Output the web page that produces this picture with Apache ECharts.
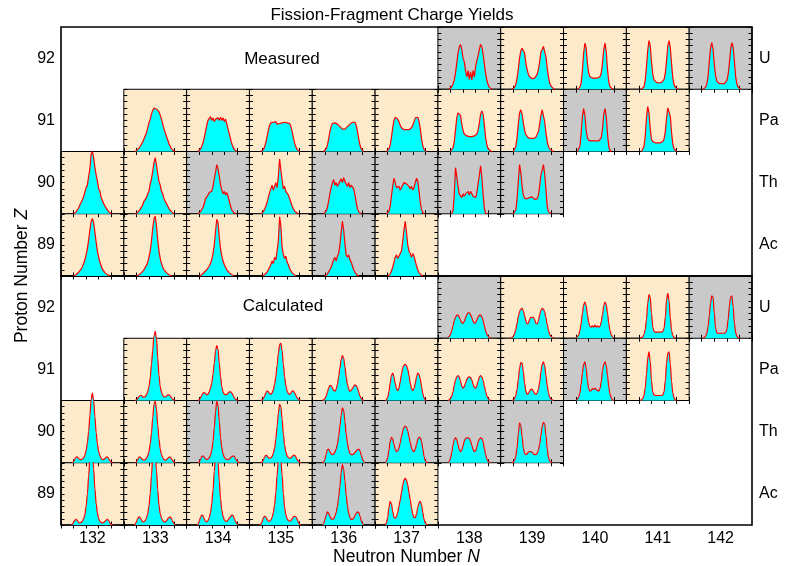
<!DOCTYPE html>
<html><head><meta charset="utf-8">
<script src="https://cdn.jsdelivr.net/npm/echarts@6/dist/echarts.min.js"></script>
<style>html,body{margin:0;padding:0;background:#fff}#c{width:796px;height:566px}</style>
</head><body><div id="c"></div>
<script>
// ---------------- data ----------------
const chartTitle = 'Fission-Fragment Charge Yields';
const neutronNumbers = [132,133,134,135,136,137,138,139,140,141,142];
const protonNumbers = [92,91,90,89];
const elementSymbols = ['U','Pa','Th','Ac'];
// fragment charge Z sampled in every cell
const chargeZ = [28,29,30,31,32,33,34,35,36,37,38,39,40,41,42,43,44,45,46,47,48,49,50,51,52,53,54,55,56,57,58,59,60,61,62,63,64];

// which N exist in each Z row, and which are drawn on grey
const cellsN92 = [138,139,140,141,142];
const cellsN91 = [133,134,135,136,137,138,139,140,141];
const cellsN90 = [132,133,134,135,136,137,138,139];
const cellsN89 = [132,133,134,135,136,137];
const grayN92 = [138,142];
const grayN91 = [140];
const grayN90 = [134,136,137,138,139];
const grayN89 = [136];

// yields (percent of panel height) per cell, same order as cellsN..
const meas92 = [
 [0,0,2,4,8,15,26,42,58,68,72,64,50,44,30,20,30,16,28,15,30,20,36,46,54,64,72,68,56,40,25,14,7,3,1,0,0],
 [0,0,1,3,8,18,32,50,62,66,69,58,42,32,24,20,18,17,18,18,20,24,32,44,60,64,69,66,52,34,20,10,5,2,1,0,0],
 [0,0,0,0,1,3,10,30,58,74,66,42,26,20,18,18,17,18,17,18,18,20,26,42,64,74,60,32,12,4,1,0,0,0,0,0,0],
 [0,0,0,0,0,1,4,14,36,62,78,70,44,24,15,12,11,13,10,12,11,13,16,26,46,70,78,66,40,18,7,3,1,0,0,0,0],
 [0,0,0,0,1,3,8,20,44,66,75,64,40,22,13,10,9,10,9,10,9,10,14,24,42,64,75,68,44,20,8,3,1,0,0,0,0]
];
const meas91 = [
 [0,0,1,3,5,8,11,15,20,25,30,38,46,52,60,66,70,72,68,70,64,58,52,44,36,30,24,18,12,8,4,2,1,0,0,0,0],
 [0,0,2,4,8,14,22,32,42,50,52,56,50,54,48,52,50,54,50,55,50,54,48,52,44,36,28,20,12,7,3,1,0,0,0,0,0],
 [0,0,1,3,7,14,24,34,42,46,48,47,45,48,44,46,45,48,46,49,47,50,46,48,45,40,32,22,13,7,3,1,0,0,0,0,0],
 [0,0,1,4,10,20,32,40,45,47,46,47,44,42,40,38,36,38,36,38,40,42,44,46,47,45,47,42,32,20,10,4,1,0,0,0,0],
 [0,0,1,4,10,22,38,50,55,56,52,48,42,38,36,35,34,35,34,35,36,38,42,48,54,56,55,48,36,20,9,3,1,0,0,0,0],
 [0,0,0,2,6,16,34,54,62,65,58,44,34,28,26,25,24,24,23,24,24,25,26,28,34,46,60,65,60,42,22,10,4,2,1,0,0],
 [0,0,0,2,8,22,44,62,67,60,46,34,27,24,22,22,21,22,21,22,23,26,32,44,58,67,64,48,30,16,8,4,2,1,0,0,0],
 [0,0,0,0,2,8,28,56,69,58,34,22,18,17,17,16,17,16,17,16,17,18,22,36,60,69,56,28,8,2,0,0,0,0,0,0,0],
 [0,0,0,0,0,2,8,24,54,72,62,36,20,16,15,14,15,14,15,14,15,16,20,32,54,70,72,56,30,12,4,1,0,0,0,0,0]
];
const meas90 = [
 [0,0,0,1,3,6,9,14,16,22,28,30,42,46,60,72,96,100,90,74,62,52,40,36,26,24,16,13,9,6,3,1,0,0,0,0,0],
 [0,0,1,2,4,7,10,14,20,18,26,32,36,48,56,68,82,90,78,64,52,46,36,32,24,20,16,12,8,5,3,1,0,0,0,0,0],
 [0,0,1,3,6,10,16,24,22,30,34,32,36,44,56,66,79,72,60,46,38,32,36,30,34,28,20,12,6,3,1,0,0,0,0,0,0],
 [0,0,1,3,7,12,18,26,34,40,46,38,44,50,42,60,88,70,54,40,44,36,38,30,24,18,12,8,4,2,1,0,0,0,0,0,0],
 [0,0,1,4,10,20,32,42,50,55,46,50,44,48,52,56,50,58,52,48,44,50,42,46,48,40,30,18,8,3,1,0,0,0,0,0,0],
 [0,0,1,4,12,28,44,57,50,42,40,44,38,42,46,50,52,48,50,44,40,44,38,42,50,57,52,36,18,6,2,0,0,0,0,0,0],
 [0,0,0,0,4,30,74,60,44,32,30,26,32,28,32,34,36,30,36,32,28,30,26,34,48,62,77,58,30,8,1,0,0,0,0,0,0],
 [0,0,0,1,6,24,52,79,66,44,30,25,23,24,22,26,25,27,24,23,22,24,30,44,62,70,79,64,38,12,3,1,0,0,0,0,0]
];
const meas89 = [
 [0,0,0,1,2,4,6,8,11,15,20,26,34,44,58,74,88,92,86,70,54,40,30,22,16,11,8,5,3,2,1,0,0,0,0,0,0],
 [0,0,0,1,2,3,5,7,10,13,17,22,30,40,56,76,92,96,80,58,40,28,20,14,10,7,5,3,2,1,0,0,0,0,0,0,0],
 [0,0,0,1,2,4,6,8,10,12,16,20,26,36,50,72,91,86,62,44,32,24,18,14,10,8,5,3,2,1,0,0,0,0,0,0,0],
 [0,0,0,1,2,4,6,10,14,18,24,20,30,26,40,56,95,80,46,34,28,32,22,18,12,8,5,3,1,0,0,0,0,0,0,0,0],
 [0,0,0,1,3,6,10,14,20,26,30,24,32,36,50,70,88,74,52,34,30,34,26,22,16,10,6,3,1,0,0,0,0,0,0,0,0],
 [0,0,0,1,3,8,14,22,30,34,28,32,30,40,56,74,88,70,50,40,36,30,36,32,24,16,10,5,2,1,0,0,0,0,0,0,0]
];
const calc92 = [
 [1,3,6,12,20,28,34,37,37,34,29,25,24,27,33,38,41,41,38,33,27,24,25,29,34,37,37,34,28,20,12,6,3,1,0,0,0],
 [0,1,3,7,14,24,35,43,47,48,44,36,28,23,24,30,34,33,34,30,24,23,28,38,45,48,47,42,33,22,13,6,3,1,0,0,0],
 [0,0,0,2,5,12,24,40,54,58,52,38,26,19,18,20,18,21,18,20,18,19,26,38,52,58,54,40,24,12,5,2,0,0,0,0,0],
 [0,0,0,0,1,2,6,14,30,56,70,66,40,18,11,10,10,10,10,10,10,11,16,34,62,72,60,32,12,4,1,0,0,0,0,0,0],
 [0,0,0,0,1,3,8,18,36,56,68,66,40,16,9,8,8,8,8,8,8,9,14,30,52,66,68,50,24,9,3,1,0,0,0,0,0]
];
const calc91 = [
 [0,0,1,3,6,8,8,6,5,6,9,14,22,36,58,80,104,111,100,68,40,22,13,8,6,6,7,9,9,7,4,2,1,0,0,0,0],
 [0,0,1,4,8,12,13,11,9,10,14,20,28,42,60,80,88,82,60,38,22,14,10,9,10,12,14,14,12,8,4,2,1,0,0,0,0],
 [0,0,1,3,7,12,15,14,11,10,12,17,26,38,56,76,90,92,80,58,38,24,15,11,10,12,15,15,12,8,4,2,1,0,0,0,0],
 [0,1,3,7,13,20,24,24,20,16,15,18,26,38,52,66,72,68,54,38,26,18,15,16,19,23,25,24,20,13,7,3,1,0,0,0,0],
 [0,1,5,14,28,40,44,38,28,19,16,20,30,42,52,57,58,56,50,40,28,19,16,19,28,38,44,42,34,22,11,4,1,0,0,0,0],
 [0,1,3,7,14,24,33,38,40,38,31,23,20,22,28,34,37,38,37,33,26,21,20,24,31,38,40,38,32,23,14,7,3,1,0,0,0],
 [0,0,1,3,8,18,34,52,61,60,46,28,15,10,11,15,18,18,15,11,10,12,18,30,46,58,62,56,40,24,12,5,2,1,0,0,0],
 [0,0,0,2,5,12,26,44,58,62,52,32,19,15,16,19,18,20,18,16,15,19,30,48,58,62,56,40,22,10,4,1,0,0,0,0,0],
 [0,0,0,0,1,3,8,20,42,68,78,62,32,14,9,8,8,8,8,8,8,9,14,32,60,76,78,58,30,12,4,1,0,0,0,0,0]
];
const calc90 = [
 [0,0,2,6,9,9,7,5,5,6,8,12,20,32,50,76,102,112,100,74,48,30,18,11,7,5,5,7,9,9,6,3,1,0,0,0,0],
 [0,0,1,5,9,9,7,5,4,5,7,11,18,30,48,72,94,99,86,60,38,22,13,8,5,4,5,7,9,9,6,3,1,0,0,0,0],
 [0,0,1,5,10,11,9,6,5,6,8,12,20,34,56,82,99,92,66,40,24,14,9,6,5,5,6,8,10,11,10,6,3,1,0,0,0],
 [0,0,1,4,9,12,11,8,7,8,10,15,24,38,58,80,94,90,70,46,28,17,11,8,7,8,10,12,12,9,5,2,1,0,0,0,0],
 [0,1,5,13,21,22,18,14,13,14,17,22,30,42,58,76,88,84,66,46,31,21,15,13,13,14,16,19,21,22,19,12,5,2,0,0,0],
 [0,2,8,20,34,41,38,30,22,18,19,24,32,42,51,57,59,57,51,42,32,24,19,18,22,30,38,41,40,34,22,10,3,1,0,0,0],
 [0,2,7,16,28,37,40,37,29,21,18,20,27,35,39,40,40,39,35,28,21,18,19,25,33,38,40,39,33,23,13,6,2,1,0,0,0],
 [0,0,1,4,10,24,46,64,60,42,24,15,13,14,17,18,18,17,14,13,13,15,20,30,44,58,65,62,44,22,8,3,1,0,0,0,0]
];
const calc89 = [
 [0,1,4,8,9,7,4,3,4,6,10,17,30,50,78,108,125,118,90,58,34,19,10,6,4,3,4,6,8,9,7,3,1,0,0,0,0],
 [0,1,5,10,13,12,8,5,5,7,11,18,30,50,80,108,122,116,88,56,32,18,11,7,5,5,7,10,12,13,10,5,2,0,0,0,0],
 [0,1,6,12,16,15,10,6,5,7,12,20,34,56,86,112,118,100,70,42,24,14,8,6,6,8,11,14,16,15,10,5,2,0,0,0,0],
 [0,1,5,11,14,13,9,6,6,8,12,20,32,52,80,104,112,104,80,50,28,16,10,7,6,7,10,13,14,13,9,4,1,0,0,0,0],
 [0,2,8,16,21,19,14,10,9,10,14,20,30,44,62,84,97,90,70,48,30,19,12,9,9,11,15,19,21,20,14,7,2,0,0,0,0],
 [0,3,12,28,38,34,22,13,11,13,20,30,40,52,64,72,75,72,64,52,40,27,17,12,12,18,28,36,38,32,20,9,3,1,0,0,0]
];

// ---------------- layout / style ----------------
const FONT = '"Liberation Sans", Arial, Helvetica, sans-serif';
const PEACH = '#fdeacb', GRAY = '#c9c9c9';
const L = 61, T = 27, PW = 691, PH = 498;
const cw = PW / neutronNumbers.length, ch = PH / 8;

const rowsDef = [
  {cells: cellsN92, gray: grayN92, meas: meas92, calc: calc92},
  {cells: cellsN91, gray: grayN91, meas: meas91, calc: calc91},
  {cells: cellsN90, gray: grayN90, meas: meas90, calc: calc90},
  {cells: cellsN89, gray: grayN89, meas: meas89, calc: calc89}
];
rowsDef.forEach(r => [r.meas, r.calc].forEach(a => a.forEach(v => {
  if (v.length !== chargeZ.length) throw new Error('bad length ' + v.length);
})));

const grids = [], xAxes = [], yAxes = [], series = [];
function tickAxisX(gi, pos) {
  return {gridIndex: gi, type: 'value', position: pos, min: 20, max: 70, interval: 10,
    axisLine: {show: false}, axisLabel: {show: false}, splitLine: {show: false},
    axisTick: {show: true, inside: true, length: 3.5, lineStyle: {color: '#000', width: 1}}, silent: true};
}
function tickAxisY(gi, pos) {
  return {gridIndex: gi, type: 'value', position: pos, min: 0, max: 100, interval: 10,
    axisLine: {show: false}, axisLabel: {show: false}, splitLine: {show: false},
    axisTick: {show: true, inside: true, length: 3.5, lineStyle: {color: '#000', width: 1}}, silent: true};
}
function trimmed(vals) {
  let a = vals.findIndex(v => v > 0), b = vals.length - 1;
  while (b > 0 && vals[b] === 0) b--;
  a = Math.max(0, a - 1); b = Math.min(vals.length - 1, b + 1);
  const out = [];
  for (let i = a; i <= b; i++) out.push([chargeZ[i], vals[i]]);
  return out;
}

[0, 1].forEach(h => {
  rowsDef.forEach((row, r) => {
    row.cells.forEach((N, k) => {
      const vals = (h ? row.calc : row.meas)[k];
      const gi = grids.length;
      grids.push({left: L + (N - neutronNumbers[0]) * cw, top: T + (h * 4 + r) * ch, width: cw, height: ch,
        outerBoundsMode: 'none', containLabel: false,
        show: true, backgroundColor: row.gray.includes(N) ? GRAY : PEACH, borderColor: '#000', borderWidth: 1});
      const xi = xAxes.length, yi = yAxes.length;
      xAxes.push(tickAxisX(gi, 'bottom'), tickAxisX(gi, 'top'));
      yAxes.push(tickAxisY(gi, 'left'), tickAxisY(gi, 'right'));
      const above = r > 0 && rowsDef[r - 1].cells.includes(N);
      series.push({type: 'line', xAxisIndex: xi, yAxisIndex: yi, data: trimmed(vals),
        showSymbol: false, symbol: 'none', silent: true, clip: above,
        smooth: h ? 0.35 : false, smoothMonotone: 'x',
        lineStyle: {color: '#ff0000', width: 1.2}, areaStyle: {color: '#00ffff', opacity: 1}});
    });
  });
});

// frame grids carrying the labels
const labelStyle = {color: '#000', fontSize: 16, fontFamily: FONT};
const NAME_FS = 17.5;
const nameStyle = {color: '#000', fontSize: NAME_FS, fontFamily: FONT,
  rich: {a: {fontSize: NAME_FS, fontFamily: FONT, color: '#000'}, b: {fontSize: NAME_FS, fontFamily: FONT, color: '#000', fontStyle: 'italic'}}};
[0, 1].forEach(h => {
  const gi = grids.length;
  grids.push({left: L, top: T + h * 4 * ch, width: PW, height: 4 * ch, show: true,
    outerBoundsMode: 'none', containLabel: false,
    backgroundColor: 'transparent', borderColor: '#000', borderWidth: 1.6});
  xAxes.push({gridIndex: gi, type: 'category', data: neutronNumbers.map(String), position: 'bottom', show: h === 1,
    axisLine: {show: false}, axisTick: {show: false}, splitLine: {show: false},
    axisLabel: Object.assign({margin: 6}, labelStyle),
    name: h === 1 ? '{a|Neutron Number }{b|N}' : '', nameLocation: 'middle', nameGap: 20,
    nameTextStyle: nameStyle});
  yAxes.push({gridIndex: gi, type: 'category', data: protonNumbers.slice().reverse().map(String), position: 'left',
    axisLine: {show: false}, axisTick: {show: false}, splitLine: {show: false},
    axisLabel: Object.assign({margin: 6}, labelStyle)});
  yAxes.push({gridIndex: gi, type: 'category', data: elementSymbols.slice().reverse(), position: 'right',
    axisLine: {show: false}, axisTick: {show: false}, splitLine: {show: false},
    axisLabel: Object.assign({margin: 7}, labelStyle)});
});
// full-height grid for the Z axis name
(function () {
  const gi = grids.length;
  grids.push({left: L, top: T, width: PW, height: PH, show: false, outerBoundsMode: 'none', containLabel: false});
  xAxes.push({gridIndex: gi, type: 'value', show: false});
  yAxes.push({gridIndex: gi, type: 'value', position: 'left',
    axisLine: {show: false}, axisTick: {show: false}, axisLabel: {show: false}, splitLine: {show: false},
    name: '{a|Proton Number }{b|Z}', nameLocation: 'middle', nameGap: 30,
    nameTextStyle: nameStyle});
})();

const chart = echarts.init(document.getElementById('c'), null, {renderer: 'canvas'});
chart.setOption({
  animation: false,
  backgroundColor: '#fff',
  grid: grids, xAxis: xAxes, yAxis: yAxes, series: series,
  graphic: [
    {type: 'text', x: 392, y: 15, style: {text: chartTitle, font: '17px ' + FONT, fill: '#000', textAlign: 'center', textVerticalAlign: 'middle'}},
    {type: 'text', x: 282, y: 59, style: {text: 'Measured', font: '17px ' + FONT, fill: '#000', textAlign: 'center', textVerticalAlign: 'middle'}},
    {type: 'text', x: 283, y: 306, style: {text: 'Calculated', font: '17px ' + FONT, fill: '#000', textAlign: 'center', textVerticalAlign: 'middle'}}
  ]
});
</script></body></html>
